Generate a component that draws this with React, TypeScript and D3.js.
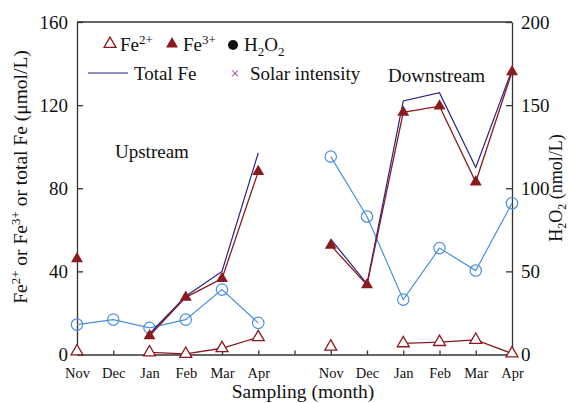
import React, { useEffect, useRef } from "react";
import {
  axisBottom,
  axisLeft,
  axisRight,
  line,
  scaleLinear,
  scalePoint,
  select,
  symbol,
  symbolTriangle,
  Axis,
} from "d3";

// months of each site; a blank slot sits between the two sites
const months = ["Nov", "Dec", "Jan", "Feb", "Mar", "Apr"];
const slots = [...months, "", ...months];

const feTicks = [0, 40, 80, 120, 160];
const h2o2Ticks = [0, 50, 100, 150, 200];

// umol/L (null = no sample)
const upFe2 = [1.5, null, 1, 0.3, 3, 8.3];
const downFe2 = [3.8, null, 5.4, 6, 7, 0.5];
const upFe3 = [46, null, 9, 27.5, 36.5, 88];
const downFe3 = [52.5, 33.5, 116.5, 119.5, 83, 136];
const upTotal = [null, null, 10, 28, 40, 97];
const downTotal = [55.5, 34, 122, 126, 90, 137];
// nmol/L
const upH2O2 = [18, 21, 16, 21, 39, 19];
const downH2O2 = [119, 83, 33, 64, 50.5, 91];

const W = 571;
const H = 403;
const margin = { top: 22, right: 59, bottom: 48.5, left: 77 };
const width = W - margin.left - margin.right;
const height = H - margin.top - margin.bottom;

const RED = "#8b1a1f";
const NAVY = "#23238a";
const SKY = "#4a90e0";
const FONT = "Liberation Serif, DejaVu Serif, serif";

type Pt = { i: number; v: number | null };
const toPts = (up: (number | null)[], down: (number | null)[]) => [
  up.map((v, k) => ({ i: k, v })),
  down.map((v, k) => ({ i: k + 7, v })),
];

function AxisG({
  axis,
  transform,
  fontSize,
}: {
  axis: Axis<any>;
  transform?: string;
  fontSize: number;
}) {
  const ref = useRef<SVGGElement>(null);
  useEffect(() => {
    if (ref.current) {
      const g = select(ref.current);
      g.call(axis);
      g.selectAll("path.domain").attr("stroke", "#333").attr("stroke-width", 1.3);
      g.selectAll(".tick line").attr("stroke", "#333").attr("stroke-width", 1.3);
      g.selectAll(".tick text")
        .style("font-family", FONT)
        .attr("font-size", fontSize)
        .attr("fill", "#111");
    }
  }, [axis]);
  return <g ref={ref} transform={transform} />;
}

export default function App() {
  const x = scalePoint<string>()
    .domain(slots.map((_, k) => String(k)))
    .range([0, width]);
  const xi = (i: number) => x(String(i))!;
  const yFe = scaleLinear().domain([0, 160]).range([height, 0]);
  const yH = scaleLinear().domain([0, 200]).range([height, 0]);

  const feLine = line<Pt>()
    .defined((d) => d.v !== null)
    .x((d) => xi(d.i))
    .y((d) => yFe(d.v as number));
  const hLine = line<Pt>()
    .defined((d) => d.v !== null)
    .x((d) => xi(d.i))
    .y((d) => yH(d.v as number));

  const tri = symbol(symbolTriangle, 62)()!;

  const fe2 = toPts(upFe2, downFe2);
  const fe3 = toPts(upFe3, downFe3);
  const tot = toPts(upTotal, downTotal);
  const h2o2 = toPts(upH2O2, downH2O2);

  const xAxis = axisBottom(x)
    .tickSizeInner(-4)
    .tickSizeOuter(0)
    .tickPadding(13)
    .tickFormat((d) => slots[+d]);
  const yAxis = axisLeft(yFe).tickValues(feTicks).tickSizeInner(-6).tickSizeOuter(0).tickPadding(9);
  const rAxis = axisRight(yH).tickValues(h2o2Ticks).tickSizeInner(-6).tickSizeOuter(0).tickPadding(9);

  return (
    <svg width={W} height={H} style={{ position: "absolute", left: 0, top: 0, fontFamily: FONT }}>
      <rect width={W} height={H} fill="#fff" />
      <g transform={`translate(${margin.left},${margin.top})`}>
        <line x1={0} x2={width} y1={0} y2={0} stroke="#333" strokeWidth={1.3} />
        <AxisG axis={xAxis} transform={`translate(0,${height})`} fontSize={14.5} />
        <AxisG axis={yAxis} fontSize={19} />
        <AxisG axis={rAxis} transform={`translate(${width},0)`} fontSize={19} />

        {/* H2O2 */}
        {h2o2.map((s, k) => (
          <path key={`hl${k}`} d={hLine(s)!} fill="none" stroke={SKY} strokeWidth={1.2} />
        ))}
        {h2o2.flat().filter((d) => d.v !== null).map((d) => (
          <circle key={`hc${d.i}`} cx={xi(d.i)} cy={yH(d.v as number)} r={5.7} fill="none" stroke={SKY} strokeWidth={1.2} />
        ))}

        {/* total Fe */}
        {tot.map((s, k) => (
          <path key={`tl${k}`} d={feLine(s)!} fill="none" stroke={NAVY} strokeWidth={1.2} />
        ))}

        {/* Fe3+ */}
        {fe3.map((s, k) => (
          <path key={`f3l${k}`} d={feLine(s)!} fill="none" stroke={RED} strokeWidth={1.3} />
        ))}
        {fe3.flat().filter((d) => d.v !== null).map((d) => (
          <path key={`f3m${d.i}`} d={tri} transform={`translate(${xi(d.i)},${yFe(d.v as number)})`} fill={RED} />
        ))}

        {/* Fe2+ */}
        {fe2.map((s, k) => (
          <path key={`f2l${k}`} d={feLine(s)!} fill="none" stroke={RED} strokeWidth={1.3} />
        ))}
        {fe2.flat().filter((d) => d.v !== null).map((d) => (
          <path key={`f2m${d.i}`} d={tri} transform={`translate(${xi(d.i)},${yFe(d.v as number)})`} fill="#fff" stroke={RED} strokeWidth={1.3} />
        ))}
      </g>

      <g style={{ fontFamily: FONT }} fill="#111">
        {/* legend */}
        <path d={tri} transform="translate(110,44)" fill="#fff" stroke={RED} strokeWidth={1.3} />
        <text x={120} y={51} fontSize={19}>
          Fe<tspan dy={-7} fontSize={13}>2+</tspan>
        </text>
        <path d={tri} transform="translate(172,44)" fill={RED} />
        <text x={183} y={51} fontSize={19}>
          Fe<tspan dy={-7} fontSize={13}>3+</tspan>
        </text>
        <circle cx={233} cy={45} r={5} fill="#111" />
        <text x={244} y={51} fontSize={19}>
          H<tspan dy={5} fontSize={13}>2</tspan>
          <tspan dy={-5}>O</tspan>
          <tspan dy={5} fontSize={13}>2</tspan>
        </text>
        <line x1={88} x2={128} y1={73} y2={73} stroke={NAVY} strokeWidth={1.2} />
        <text x={134} y={80} fontSize={19}>Total Fe</text>
        <text x={235} y={79} fontSize={16} fill="#a040a0" textAnchor="middle">×</text>
        <text x={250} y={80} fontSize={19}>Solar intensity</text>

        <text x={115} y={158} fontSize={19}>Upstream</text>
        <text x={388} y={82} fontSize={19}>Downstream</text>

        {/* axis titles */}
        <text transform="translate(27,177) rotate(-90)" textAnchor="middle" fontSize={19.5}>
          Fe<tspan dy={-7} fontSize={13}>2+</tspan>
          <tspan dy={7}> or Fe</tspan>
          <tspan dy={-7} fontSize={13}>3+</tspan>
          <tspan dy={7}> or total Fe (μmol/L)</tspan>
        </text>
        <text transform="translate(562,188) rotate(-90)" textAnchor="middle" fontSize={18}>
          H<tspan dy={4} fontSize={12}>2</tspan>
          <tspan dy={-4}>O</tspan>
          <tspan dy={4} fontSize={12}>2</tspan>
          <tspan dy={-4}> (nmol/L)</tspan>
        </text>
        <text x={303} y={398} textAnchor="middle" fontSize={19.5}>Sampling (month)</text>
      </g>
    </svg>
  );
}
